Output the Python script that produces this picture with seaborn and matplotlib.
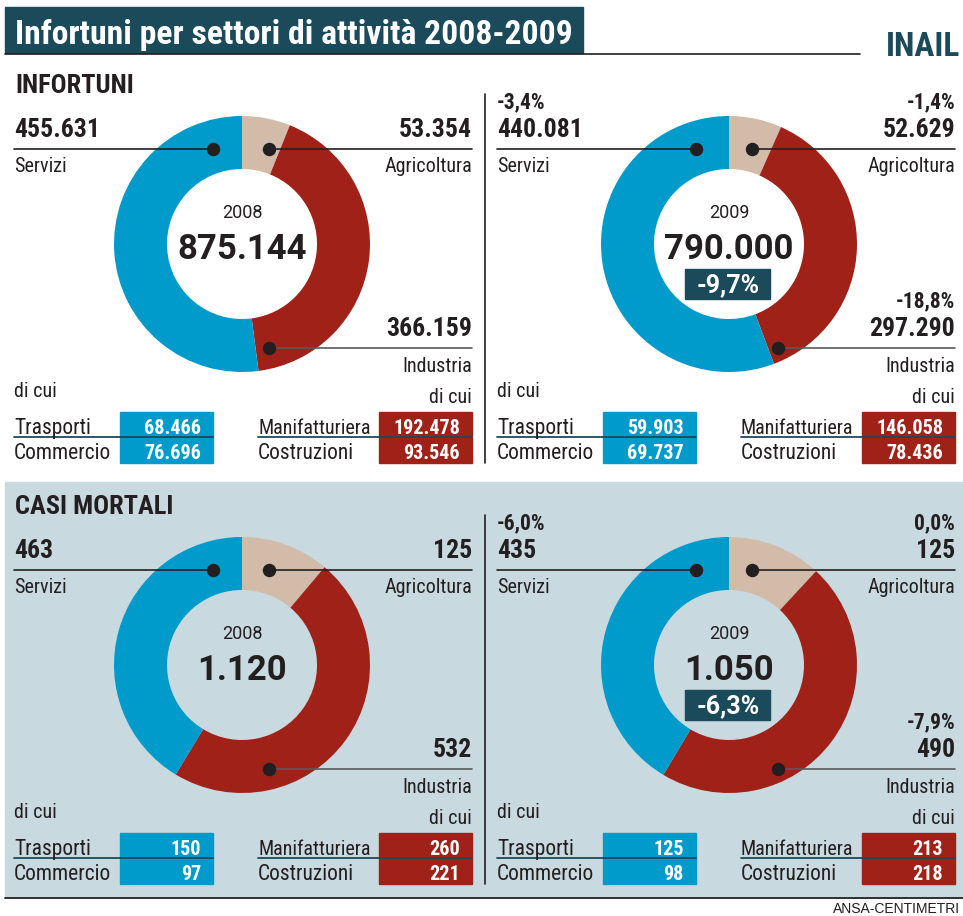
import matplotlib
matplotlib.use("Agg")
import matplotlib.pyplot as plt
from matplotlib import font_manager as fm
from matplotlib.patches import Rectangle
import seaborn as sns

# dati (ordine in senso orario dall'alto)
settori = ["Agricoltura", "Industria", "Servizi"]
infortuni_2008 = [53354, 366159, 455631]
infortuni_2009 = [52629, 297290, 440081]
mortali_2008 = [125, 532, 463]
mortali_2009 = [125, 490, 435]
var_infortuni = ["-1,4%", "-18,8%", "-3,4%"]
var_mortali = ["0,0%", "-7,9%", "-6,0%"]
var_tot_infortuni = "-9,7%"
var_tot_mortali = "-6,3%"

sotto_blu = ["Trasporti", "Commercio"]
sotto_rossi = ["Manifatturiera", "Costruzioni"]
inf_blu_2008 = [68466, 76696]
inf_rossi_2008 = [192478, 93546]
inf_blu_2009 = [59903, 69737]
inf_rossi_2009 = [146058, 78436]
mort_blu_2008 = [150, 97]
mort_rossi_2008 = [260, 221]
mort_blu_2009 = [125, 98]
mort_rossi_2009 = [213, 218]

sns.set_theme(style="white")
colori = sns.color_palette(["#d2bba8", "#a02117", "#009bcb"])
BLU, ROSSO = colori[2], colori[1]
TEAL = "#1b4a5a"
PANNELLO = "#c9d9e0"
NERO = "#231f20"


# cerca un font stretto (narrow / condensed) tra quelli installati
def peso(f):
    w = f.weight
    if isinstance(w, str):
        w = {"normal": 400, "regular": 400, "book": 400, "bold": 700}.get(w, 400)
    return w


def stretto(f):
    return (str(f.stretch) in ("condensed", "semi-condensed", "extra-condensed")
            or "Narrow" in f.name or "Condensed" in f.name
            or "Condensed" in f.fname or "Narrow" in f.fname)


preferiti = ["Liberation Sans Narrow", "Roboto Condensed", "Noto Sans", "Open Sans",
             "DejaVu Sans Condensed", "DejaVu Sans"]
cand = [f for f in fm.fontManager.ttflist if stretto(f) and f.style == "normal"]


def scegli(w):
    for nome in preferiti:
        for f in cand:
            if f.name == nome and abs(peso(f) - w) <= 100:
                return f.fname
    for f in cand:
        if abs(peso(f) - w) <= 100:
            return f.fname
    return None


f_reg = scegli(400)
f_bold = scegli(700)
REG = fm.FontProperties(fname=f_reg) if f_reg else fm.FontProperties(family="DejaVu Sans", stretch="condensed")
BOLD = fm.FontProperties(fname=f_bold) if f_bold else fm.FontProperties(family="DejaVu Sans", weight="bold", stretch="condensed")

nomi = {f.name for f in fm.fontManager.ttflist}
TONDO = "Roboto" if "Roboto" in nomi else "DejaVu Sans"

W, H = 963, 916
fig = plt.figure(figsize=(W / 100, H / 100), dpi=100)

sfondo = fig.add_axes([0, 0, 1, 1], zorder=0)
sopra = fig.add_axes([0, 0, 1, 1], zorder=5)
for a in (sfondo, sopra):
    a.set_xlim(0, W)
    a.set_ylim(H, 0)
    a.axis("off")
sopra.patch.set_alpha(0)
renderer = fig.canvas.get_renderer()


def fmt(v):
    return f"{v:,}".replace(",", ".")


def txt(x, y, s, size, bold=False, ha="left", color=NERO, larg=None, **kw):
    fp = (BOLD if bold else REG).copy()
    fp.set_size(size)
    t = sopra.text(x, y, s, fontproperties=fp, ha=ha, va="baseline", color=color, **kw)
    if larg is not None:
        w = t.get_window_extent(renderer).width
        if w > larg:
            fp.set_size(size * larg / w)
            t.set_fontproperties(fp)
    return t


R, r = 128, 75


def ciambella(cx, cy, valori):
    ax = fig.add_axes([(cx - R) / W, 1 - (cy + R) / H, 2 * R / W, 2 * R / H], zorder=2)
    ax.pie(valori, colors=colori, startangle=90, counterclock=False, radius=1,
           wedgeprops=dict(width=(R - r) / R, linewidth=0))
    ax.set_xlim(-1, 1)
    ax.set_ylim(-1, 1)
    ax.axis("off")


# posizione dei pallini di richiamo (scostamento orizzontale dal centro)
richiami = {"sinistra": (-29, 27, 27), "destra": (-33, 23, 49)}


def pannello(dy, titolo, dati08, dati09, var, var_tot, blu08, rossi08, blu09, rossi09):
    txt(15, 93 + dy, titolo, 19, bold=True)
    for cx, dati, x0, x1, anno, nuovo, lato in [
            (242, dati08, 14, 472, "2008", False, "sinistra"),
            (729, dati09, 497, 955, "2009", True, "destra")]:
        cy = 244 + dy
        ciambella(cx, cy, dati)
        agr, ind, ser = dati
        ds, da, di = richiami[lato]
        # etichette superiori
        y_line = 149 + dy
        txt(x0, 137 + dy, fmt(ser), 18.5, bold=True)
        txt(x0, 172 + dy, "Servizi", 14.5)
        txt(x1, 137 + dy, fmt(agr), 18.5, bold=True, ha="right")
        txt(x1, 172 + dy, "Agricoltura", 14.5, ha="right")
        xs, xa = cx + ds, cx + da
        sopra.plot([x0, xs], [y_line, y_line], color=NERO, lw=1.2, zorder=3)
        sopra.plot([xa, x1], [y_line, y_line], color=NERO, lw=1.2, zorder=3)
        sopra.scatter([xs, xa], [y_line, y_line], s=75, color=NERO, zorder=4)
        # industria
        y_ind = 348 + dy
        txt(x1, 336 + dy, fmt(ind), 18.5, bold=True, ha="right")
        txt(x1, 372 + dy, "Industria", 14.5, ha="right")
        xi = cx + di
        sopra.plot([xi, x1], [y_ind, y_ind], color="#5a5a5a", lw=1.2, zorder=3)
        sopra.scatter([xi], [y_ind], s=75, color=NERO, zorder=4)
        if nuovo:
            txt(x0, 108 + dy, var[2], 15.5, bold=True)
            txt(x1, 108 + dy, var[0], 15.5, bold=True, ha="right")
            txt(x1, 307 + dy, var[1], 15.5, bold=True, ha="right")
        # centro
        sopra.text(cx, 218 + dy, anno, fontsize=13, ha="center", va="baseline",
                   color=NERO, family=TONDO)
        sopra.text(cx, 259 + dy, fmt(sum(dati)), fontsize=25, fontweight=600,
                   ha="center", va="baseline", color=NERO, family=TONDO)
        if nuovo:
            sopra.add_patch(Rectangle((cx - 44, 269 + dy), 85, 30, color=TEAL, zorder=3))
            sopra.text(cx - 1, 292 + dy, var_tot, fontsize=18, fontweight=600,
                       ha="center", va="baseline", color="white", family=TONDO, zorder=4)
        # di cui
        txt(x0, 397 + dy, "di cui", 14.5)
        txt(x1, 403 + dy, "di cui", 14.5, ha="right")
        blu = blu08 if not nuovo else blu09
        rossi = rossi08 if not nuovo else rossi09
        bx = x0 + 106
        rx = x1 - 93
        mx = x0 + 244
        sopra.add_patch(Rectangle((bx, 412 + dy), 93, 51, color=BLU, zorder=2))
        sopra.add_patch(Rectangle((rx, 412 + dy), 93, 51, color=ROSSO, zorder=2))
        sopra.plot([x0, bx + 93], [437 + dy, 437 + dy], color=TEAL, lw=1.3, zorder=3)
        sopra.plot([mx, x1], [437 + dy, 437 + dy], color=TEAL, lw=1.3, zorder=3)
        for i, yb in enumerate([434, 459]):
            txt(x0, yb + dy, sotto_blu[i], 15.5, larg=bx - x0 - 4)
            txt(mx, yb + dy, sotto_rossi[i], 15.5, larg=rx - mx - 8)
            txt(bx + 81, yb + dy, fmt(blu[i]), 14.5, bold=True, ha="right", color="white")
            txt(x1 - 12, yb + dy, fmt(rossi[i]), 14.5, bold=True, ha="right", color="white")
    sopra.plot([485, 485], [94 + dy, 463 + dy], color=NERO, lw=1.2)


# intestazione
sfondo.add_patch(Rectangle((5, 7), 578, 46, color=TEAL))
txt(15, 44, "Infortuni per settori di attività 2008-2009", 30, bold=True,
    color="white", larg=556)
sopra.plot([5, 860], [53.5, 53.5], color=NERO, lw=1.2)
txt(960, 56, "INAIL", 24, bold=True, color=TEAL, ha="right", larg=94)

# pannello casi mortali
sfondo.add_patch(Rectangle((5, 482), W - 5, 415, color=PANNELLO))

pannello(0, "INFORTUNI", infortuni_2008, infortuni_2009, var_infortuni, var_tot_infortuni,
         inf_blu_2008, inf_rossi_2008, inf_blu_2009, inf_rossi_2009)
pannello(421, "CASI MORTALI", mortali_2008, mortali_2009, var_mortali, var_tot_mortali,
         mort_blu_2008, mort_rossi_2008, mort_blu_2009, mort_rossi_2009)

sopra.plot([5, W], [898, 898], color=NERO, lw=1.3)
sopra.text(960, 913, "ANSA-CENTIMETRI", fontsize=10, color=NERO, ha="right",
           va="baseline", family="Liberation Sans")

fig.savefig("out.png", dpi=100)
